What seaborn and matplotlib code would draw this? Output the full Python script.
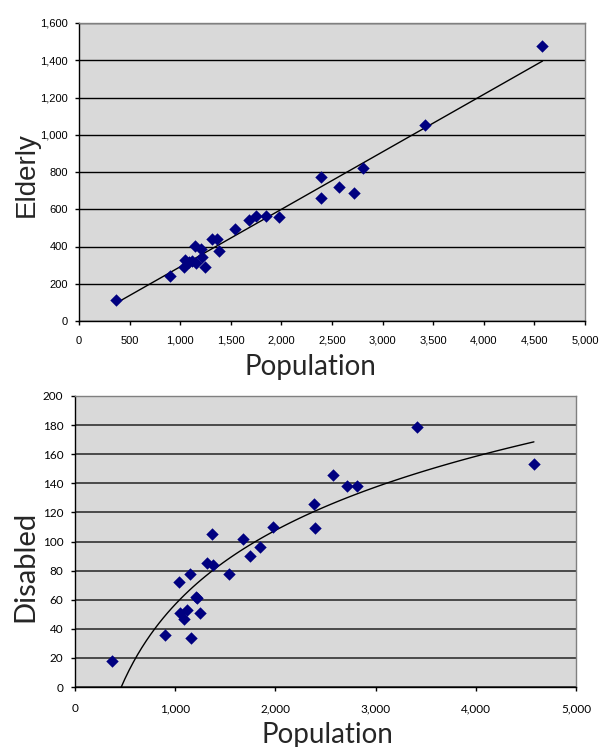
import numpy as np
import pandas as pd
import matplotlib
matplotlib.use("Agg")
import matplotlib.pyplot as plt
import seaborn as sns
from matplotlib.ticker import FuncFormatter, MultipleLocator

population = [370, 900, 1035, 1050, 1090, 1117, 1150, 1155, 1210, 1220, 1243,
              1315, 1365, 1380, 1540, 1680, 1750, 1845, 1975, 2390, 2395,
              2570, 2715, 2810, 3415, 4580]
elderly = [115, 240, 290, 330, 315, 320, 405, 310, 385, 345, 290,
           440, 440, 378, 495, 542, 565, 562, 557, 775, 660,
           717, 688, 820, 1055, 1475]
disabled = [18, 36, 72, 51, 47, 53, 78, 34, 62, 61, 51,
            85, 105, 84, 78, 102, 90, 96, 110, 126, 109,
            146, 138, 138, 179, 153]

df = pd.DataFrame({"Population": population, "Elderly": elderly, "Disabled": disabled})

sns.set_style("white")
plt.rcParams["font.family"] = ["Lato", "DejaVu Sans"]

fig = plt.figure(figsize=(6.0, 7.47), dpi=100)
W, H = 600, 747

def add_ax(x0, y0, x1, y1):
    return fig.add_axes([x0 / W, 1 - y1 / H, (x1 - x0) / W, (y1 - y0) / H])

ax1 = add_ax(79, 23, 585, 321)
ax2 = add_ax(75, 396, 576, 687)

navy = "#000080"
bg = "#D9D9D9"
fmt = FuncFormatter(lambda v, p: f"{v:,.0f}")

# Top chart
ax1.set_facecolor(bg)
ax1.set_xlim(0, 5000)
ax1.set_ylim(0, 1600)
ax1.xaxis.set_major_locator(MultipleLocator(500))
ax1.yaxis.set_major_locator(MultipleLocator(200))
ax1.grid(axis="y", color="#000000", linewidth=1.0)
ax1.set_axisbelow(True)
sns.regplot(data=df, x="Population", y="Elderly", ax=ax1, scatter=False, ci=None,
            line_kws=dict(color="black", linewidth=1.0))
sns.scatterplot(data=df, x="Population", y="Elderly", ax=ax1, marker="D",
                s=40, color=navy, edgecolor=navy, linewidth=0, zorder=3)

# Bottom chart
ax2.set_facecolor(bg)
ax2.set_xlim(0, 5000)
ax2.set_ylim(0, 200)
ax2.xaxis.set_major_locator(MultipleLocator(1000))
ax2.yaxis.set_major_locator(MultipleLocator(20))
ax2.grid(axis="y", color="#4a4a4a", linewidth=1.4)
ax2.set_axisbelow(True)
sns.regplot(data=df, x="Population", y="Disabled", ax=ax2, scatter=False, ci=None,
            logx=True, line_kws=dict(color="black", linewidth=1.0))
sns.scatterplot(data=df, x="Population", y="Disabled", ax=ax2, marker="D",
                s=40, color=navy, edgecolor=navy, linewidth=0, zorder=3)
ax2.set_ylim(0, 200)

for ax, tickfont, tsize, xpad, ypad in (
        (ax1, ["Liberation Sans", "DejaVu Sans"], 8, 7.5, 4.8),
        (ax2, ["Lato", "DejaVu Sans"], 8.5, 8.5, 5.5)):
    ax.xaxis.set_major_formatter(fmt)
    ax.yaxis.set_major_formatter(fmt)
    ax.tick_params(axis="both", which="major", direction="out", length=3.0,
                   width=1, color="black", labelsize=tsize, labelcolor="black",
                   bottom=True, left=True)
    ax.tick_params(axis="x", pad=xpad)
    ax.tick_params(axis="y", pad=ypad)
    for lab in ax.get_xticklabels() + ax.get_yticklabels():
        lab.set_family(tickfont)
    for s in ("left", "bottom"):
        ax.spines[s].set_color("black")
        ax.spines[s].set_linewidth(1.0)
    for s in ("top", "right"):
        ax.spines[s].set_color("#808080")
        ax.spines[s].set_linewidth(1.0)
        ax.spines[s].set_visible(True)

ax1.set_xlabel("Population", fontsize=20, family=["Lato", "DejaVu Sans"])
ax1.set_ylabel("Elderly", fontsize=20, family=["Liberation Sans", "DejaVu Sans"])
ax2.set_xlabel("Population", fontsize=20, family=["Lato", "DejaVu Sans"])
ax2.set_ylabel("Disabled", fontsize=21, family=["Lato", "DejaVu Sans"])

for ax, xl, yl in ((ax1, (0.457, -0.154), (-0.103, 0.493)),
                   (ax2, (0.504, -0.166), (-0.100, 0.414))):
    ax.xaxis.label.set_verticalalignment("center")
    ax.yaxis.label.set_verticalalignment("center")
    ax.xaxis.set_label_coords(*xl)
    ax.yaxis.set_label_coords(*yl)

fig.savefig("out.png", dpi=100, facecolor="white")
